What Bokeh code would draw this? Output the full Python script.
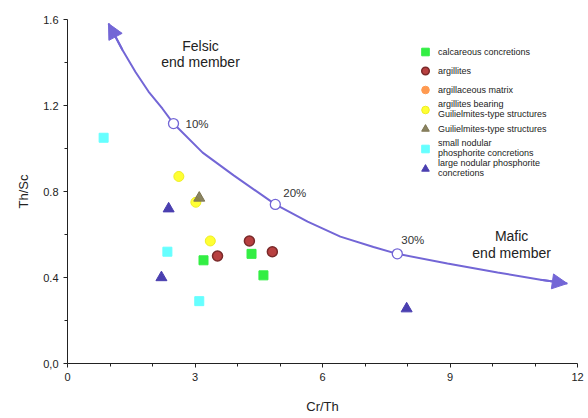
from bokeh.plotting import figure
from bokeh.models import (ColumnDataSource, Legend, LegendItem, Arrow, NormalHead,
                          FixedTicker, Label)
from bokeh.embed import file_html
from bokeh.resources import INLINE

# --- sample data: Cr/Th vs Th/Sc ---
calc_x = [3.2, 4.33, 4.61]
calc_y = [0.48, 0.51, 0.41]

argil_x = [3.53, 4.28, 4.82]
argil_y = [0.50, 0.57, 0.52]

# no argillaceous-matrix sample falls in this diagram
matrix_x = [float("nan")]
matrix_y = [float("nan")]

bearing_x = [2.62, 3.36, 3.02]
bearing_y = [0.87, 0.57, 0.75]

guil_x = [3.1]
guil_y = [0.77]

small_x = [0.85, 2.35, 3.1]
small_y = [1.05, 0.52, 0.29]

large_x = [2.38, 2.21, 7.98]
large_y = [0.72, 0.40, 0.255]

# mixing curve between felsic and mafic end members
mix_x = [0.965, 1.294, 1.6, 1.906, 2.235, 2.494, 3.18, 3.91, 4.89, 5.65, 6.42, 7.2,
         7.76, 8.94, 10.12, 11.13, 11.76]
mix_y = [1.581, 1.458, 1.356, 1.265, 1.185, 1.116, 0.981, 0.875, 0.74, 0.66, 0.59, 0.542,
         0.51, 0.465, 0.423, 0.39, 0.372]

pct_x = [2.494, 4.89, 7.76]
pct_y = [1.116, 0.74, 0.51]
pct_labels = ["10%", "20%", "30%"]

FONT = "Liberation Sans"
CURVE = "#7366d6"

p = figure(width=588, height=418, x_range=(0, 12), y_range=(0, 1.6),
           output_backend="svg", toolbar_location=None,
           min_border_left=67, min_border_right=11, min_border_top=19, min_border_bottom=55)
p.outline_line_color = None
p.grid.visible = False
p.background_fill_color = "white"

# axes
for ax in (p.xaxis[0], p.yaxis[0]):
    ax.axis_line_color = "#222222"
    ax.major_tick_line_color = "#222222"
    ax.minor_tick_line_color = "#222222"
    ax.major_tick_out = 4
    ax.major_tick_in = 0
    ax.minor_tick_out = 3
    ax.minor_tick_in = 0
    ax.major_label_text_font = FONT
    ax.major_label_text_font_size = "11px"
    ax.major_label_text_color = "#222222"
    ax.axis_label_text_font = FONT
    ax.axis_label_text_font_size = "13px"
    ax.axis_label_text_font_style = "normal"
    ax.axis_label_text_color = "#222222"

p.xaxis.ticker = FixedTicker(ticks=[0, 3, 6, 9, 12], minor_ticks=[1, 2, 4, 5, 7, 8, 10, 11])
p.yaxis.ticker = FixedTicker(ticks=[0, 0.4, 0.8, 1.2, 1.6], minor_ticks=[0.2, 0.6, 1.0, 1.4])
p.yaxis.major_label_overrides = {0: "0,0"}
p.xaxis.axis_label = "Cr/Th"
p.yaxis.axis_label = "Th/Sc"
p.xaxis.axis_label_standoff = 15
p.yaxis.axis_label_standoff = 9

# mixing curve with arrowheads at both ends
p.line(mix_x, mix_y, line_color=CURVE, line_width=2)
p.add_layout(Arrow(end=NormalHead(size=15, fill_color=CURVE, line_color=CURVE, line_width=1),
                   x_start=mix_x[1], y_start=mix_y[1], x_end=mix_x[0], y_end=mix_y[0],
                   line_color=CURVE, line_width=2))
p.add_layout(Arrow(end=NormalHead(size=15, fill_color=CURVE, line_color=CURVE, line_width=1),
                   x_start=mix_x[-2], y_start=mix_y[-2], x_end=mix_x[-1], y_end=mix_y[-1],
                   line_color=CURVE, line_width=2))
p.scatter(pct_x, pct_y, marker="circle", size=10, fill_color="white",
          line_color=CURVE, line_width=1.3)
pct_src = ColumnDataSource(dict(x=pct_x, y=pct_y, t=pct_labels,
                                dx=[12, 8, 4], dy=[0, -11, -14]))
p.text(x="x", y="y", text="t", source=pct_src, x_offset="dx", y_offset="dy",
       text_font={"value": FONT}, text_font_size="11.5px", text_color="#333333",
       text_baseline="middle")

p.add_layout(Label(x=3.13, y=1.44, text="Felsic\nend member", text_font=FONT,
                   text_font_size="14px", text_color="#222222", text_align="center",
                   text_baseline="middle", text_line_height=1.05))
p.add_layout(Label(x=10.45, y=0.555, text="Mafic\nend member", text_font=FONT,
                   text_font_size="14px", text_color="#222222", text_align="center",
                   text_baseline="middle", text_line_height=1.05))

# sample groups
r_calc = p.scatter(calc_x, calc_y, marker="square", size=9, fill_color="#33ee44",
                   line_color="#33ee44")
r_argil = p.scatter(argil_x, argil_y, marker="circle", size=10, fill_color="#b84040",
                    line_color="#7a2a2a", line_width=1.5)
r_matrix = p.scatter(matrix_x, matrix_y, marker="circle", size=10, fill_color="#ff9a50",
                     line_color="#ff9a50")
r_bearing = p.scatter(bearing_x, bearing_y, marker="circle", size=10, fill_color="#ffff33",
                      line_color="#eeee22")
r_guil = p.scatter(guil_x, guil_y, marker="triangle", size=11, fill_color="#7d7550",
                   line_color="#7d7550", fill_alpha=0.9)
r_small = p.scatter(small_x, small_y, marker="square", size=9, fill_color="#66ffff",
                    line_color="#66ffff")
r_large = p.scatter(large_x, large_y, marker="triangle", size=11, fill_color="#4a3fb0",
                    line_color="#4a3fb0")

legend = Legend(items=[
    LegendItem(label="calcareous concretions", renderers=[r_calc]),
    LegendItem(label="argillites", renderers=[r_argil]),
    LegendItem(label="argillaceous matrix", renderers=[r_matrix]),
    LegendItem(label="argillites bearing\nGuilielmites-type structures", renderers=[r_bearing]),
    LegendItem(label="Guilielmites-type structures", renderers=[r_guil]),
    LegendItem(label="small nodular\nphosphorite concretions", renderers=[r_small]),
    LegendItem(label="large nodular phosphorite\nconcretions", renderers=[r_large]),
], location=(348, 185))
legend.background_fill_alpha = 0
legend.border_line_color = None
legend.label_text_font = FONT
legend.label_text_font_size = "9px"
legend.label_text_color = "#222222"
legend.label_text_line_height = 1.0
legend.glyph_width = 20
legend.glyph_height = 19
legend.label_height = 12
legend.spacing = 0
legend.padding = 2
legend.label_standoff = 3
p.add_layout(legend)

open("out.html", "w").write(file_html(p, INLINE))
